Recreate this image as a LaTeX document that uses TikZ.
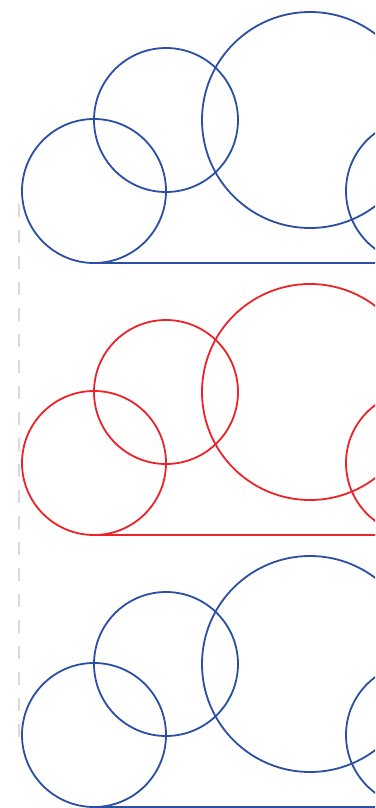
\documentclass[tikz,border=0pt]{standalone}
\definecolor{cblue}{HTML}{2A4FA3}
\definecolor{cred}{HTML}{EC2328}
\definecolor{cgray}{HTML}{D9D9D9}
\tikzset{
  cloudline/.style={line width=1.8pt},
  guide/.style={draw=cgray, line width=2pt, dash pattern=on 13pt off 13pt}
}
\begin{document}
\begin{tikzpicture}[x=1pt,y=-1pt]
\useasboundingbox (0,0) rectangle (375,808);
\clip (0,0) rectangle (375,808);
\fill[white] (0,0) rectangle (375,808);
\draw[guide] (19,204) -- (19,737);
\foreach \dy/\col in {0/cblue, 272/cred, 544/cblue}{
  \begin{scope}[yshift=-\dy pt]
    \draw[cloudline, draw=\col] (94,191) circle[radius=72];
    \draw[cloudline, draw=\col] (166,120) circle[radius=72];
    \draw[cloudline, draw=\col] (310,120) circle[radius=108];
    \draw[cloudline, draw=\col] (418,191) circle[radius=72];
    \draw[cloudline, draw=\col] (94,263) -- (380,263);
  \end{scope}
}
\end{tikzpicture}
\end{document}
